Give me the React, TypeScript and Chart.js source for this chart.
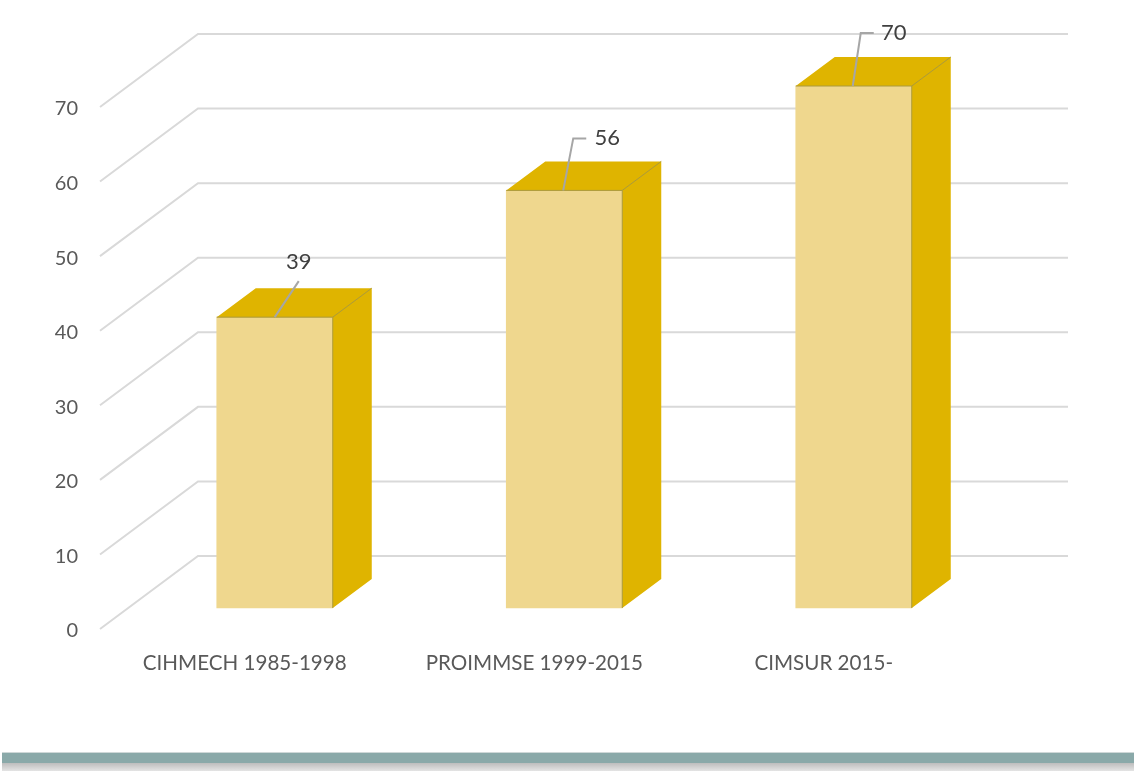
import React, { useEffect, useRef } from "react";
import { Chart, registerables } from "chart.js";

Chart.register(...registerables);

const categories = ["CIHMECH 1985-1998", "PROIMMSE 1999-2015", "CIMSUR 2015-"];
const values = [39, 56, 70];
const tickValues = [0, 10, 20, 30, 40, 50, 60, 70];

// Pseudo-3D styling
const GRID_SHIFT = -2;
const WALL_DX = 98, WALL_DY = 73;
const WALL_RIGHT = 1068;
const BAR_DX = 30, BAR_DY = 23;
const SIDE_DX = 39, SIDE_DY = 29;
const FONT = "Lato, 'Open Sans', sans-serif";
const leaders: number[][][] = [
  [[0, 0], [24, -36]],
  [[-1, 0], [9, -52], [22, -52]],
  [[-1, 0], [7, -53], [20, -53]],
];
const labelOffsets = [[24, -55], [43, -52], [40, -53]];

const plugin3d = {
  id: "plugin3d",
  beforeDatasetsDraw(chart: any) {
    const { ctx, chartArea: a, scales } = chart;
    const y = scales.y;
    ctx.save();
    ctx.strokeStyle = "#d9d9d9";
    ctx.lineWidth = 2;
    for (const v of tickValues) {
      const py = y.getPixelForValue(v) + GRID_SHIFT;
      ctx.beginPath();
      ctx.moveTo(a.left, py);
      ctx.lineTo(a.left + WALL_DX, py - WALL_DY);
      ctx.lineTo(WALL_RIGHT, py - WALL_DY);
      ctx.stroke();
    }
    ctx.restore();
    ctx.save();
    ctx.translate(BAR_DX, -BAR_DY);
  },
  afterDatasetsDraw(chart: any) {
    const { ctx } = chart;
    const bars = chart.getDatasetMeta(0).data;
    bars.forEach((b: any) => {
      const l = b.x - b.width / 2, r = b.x + b.width / 2, t = b.y, base = b.base;
      ctx.fillStyle = "#dfb400";
      ctx.beginPath();
      ctx.moveTo(l, t);
      ctx.lineTo(l + SIDE_DX, t - SIDE_DY);
      ctx.lineTo(r + SIDE_DX, t - SIDE_DY);
      ctx.lineTo(r + SIDE_DX, base - SIDE_DY);
      ctx.lineTo(r, base);
      ctx.lineTo(r, t);
      ctx.closePath();
      ctx.fill();
      ctx.strokeStyle = "#ab9a3c";
      ctx.lineWidth = 1;
      ctx.beginPath();
      ctx.moveTo(l, t);
      ctx.lineTo(r, t);
      ctx.lineTo(r, base);
      ctx.moveTo(r, t);
      ctx.lineTo(r + SIDE_DX, t - SIDE_DY);
      ctx.stroke();
    });
    bars.forEach((b: any, i: number) => {
      ctx.strokeStyle = "#a6a6a6";
      ctx.lineWidth = 2;
      ctx.beginPath();
      leaders[i].forEach(([dx, dy], k) => {
        if (k === 0) ctx.moveTo(b.x + dx, b.y + dy);
        else ctx.lineTo(b.x + dx, b.y + dy);
      });
      ctx.stroke();
      ctx.fillStyle = "#404040";
      ctx.font = `22px ${FONT}`;
      ctx.textAlign = "center";
      ctx.textBaseline = "middle";
      ctx.fillText(String(values[i]), b.x + labelOffsets[i][0], b.y + labelOffsets[i][1]);
    });
    ctx.restore();
  },
};

export default function App() {
  const ref = useRef<HTMLCanvasElement>(null);
  useEffect(() => {
    const chart = new Chart(ref.current!, {
      type: "bar",
      data: {
        labels: categories,
        datasets: [{
          data: values,
          backgroundColor: "#efd78e",
          barThickness: 116,
          clip: false,
        } as any],
      },
      options: {
        responsive: false,
        animation: false,
        events: [],
        layout: { padding: { left: 0, right: 165.5, top: 109, bottom: 90 } },
        plugins: { legend: { display: false }, tooltip: { enabled: false } },
        scales: {
          x: {
            grid: { display: false },
            border: { display: false },
            afterFit: (s: any) => { s.height = 50; },
            ticks: {
              color: "#595959",
              font: { family: FONT, size: 20.6 },
              padding: 12,
              autoSkip: false,
              maxRotation: 0,
            },
          },
          y: {
            min: 0,
            max: 70,
            grid: { display: false },
            border: { display: false },
            afterFit: (s: any) => { s.width = 100; },
            afterBuildTicks: (s: any) => { s.ticks = tickValues.map((value) => ({ value })); },
            ticks: {
              color: "#595959",
              font: { family: FONT, size: 20 },
              padding: 14,
            },
          },
        },
      },
      plugins: [plugin3d],
    } as any);
    return () => chart.destroy();
  }, []);
  return (
    <div style={{ position: "absolute", left: 0, top: 0, width: 1134, height: 771, overflow: "hidden", background: "#fff" }}>
      <canvas ref={ref} width={1134} height={771} style={{ display: "block", filter: "blur(0.5px)" }} />
      <div style={{ position: "absolute", left: 2, right: 0, top: 752, height: 1, background: "#cfd8d8" }} />
      <div style={{ position: "absolute", left: 2, right: 0, top: 753, height: 10, background: "#8aa9a9" }} />
      <div style={{ position: "absolute", left: 2, right: 0, top: 763, height: 8, background: "linear-gradient(#bdbdbd, #e4e4e4)" }} />
    </div>
  );
}
